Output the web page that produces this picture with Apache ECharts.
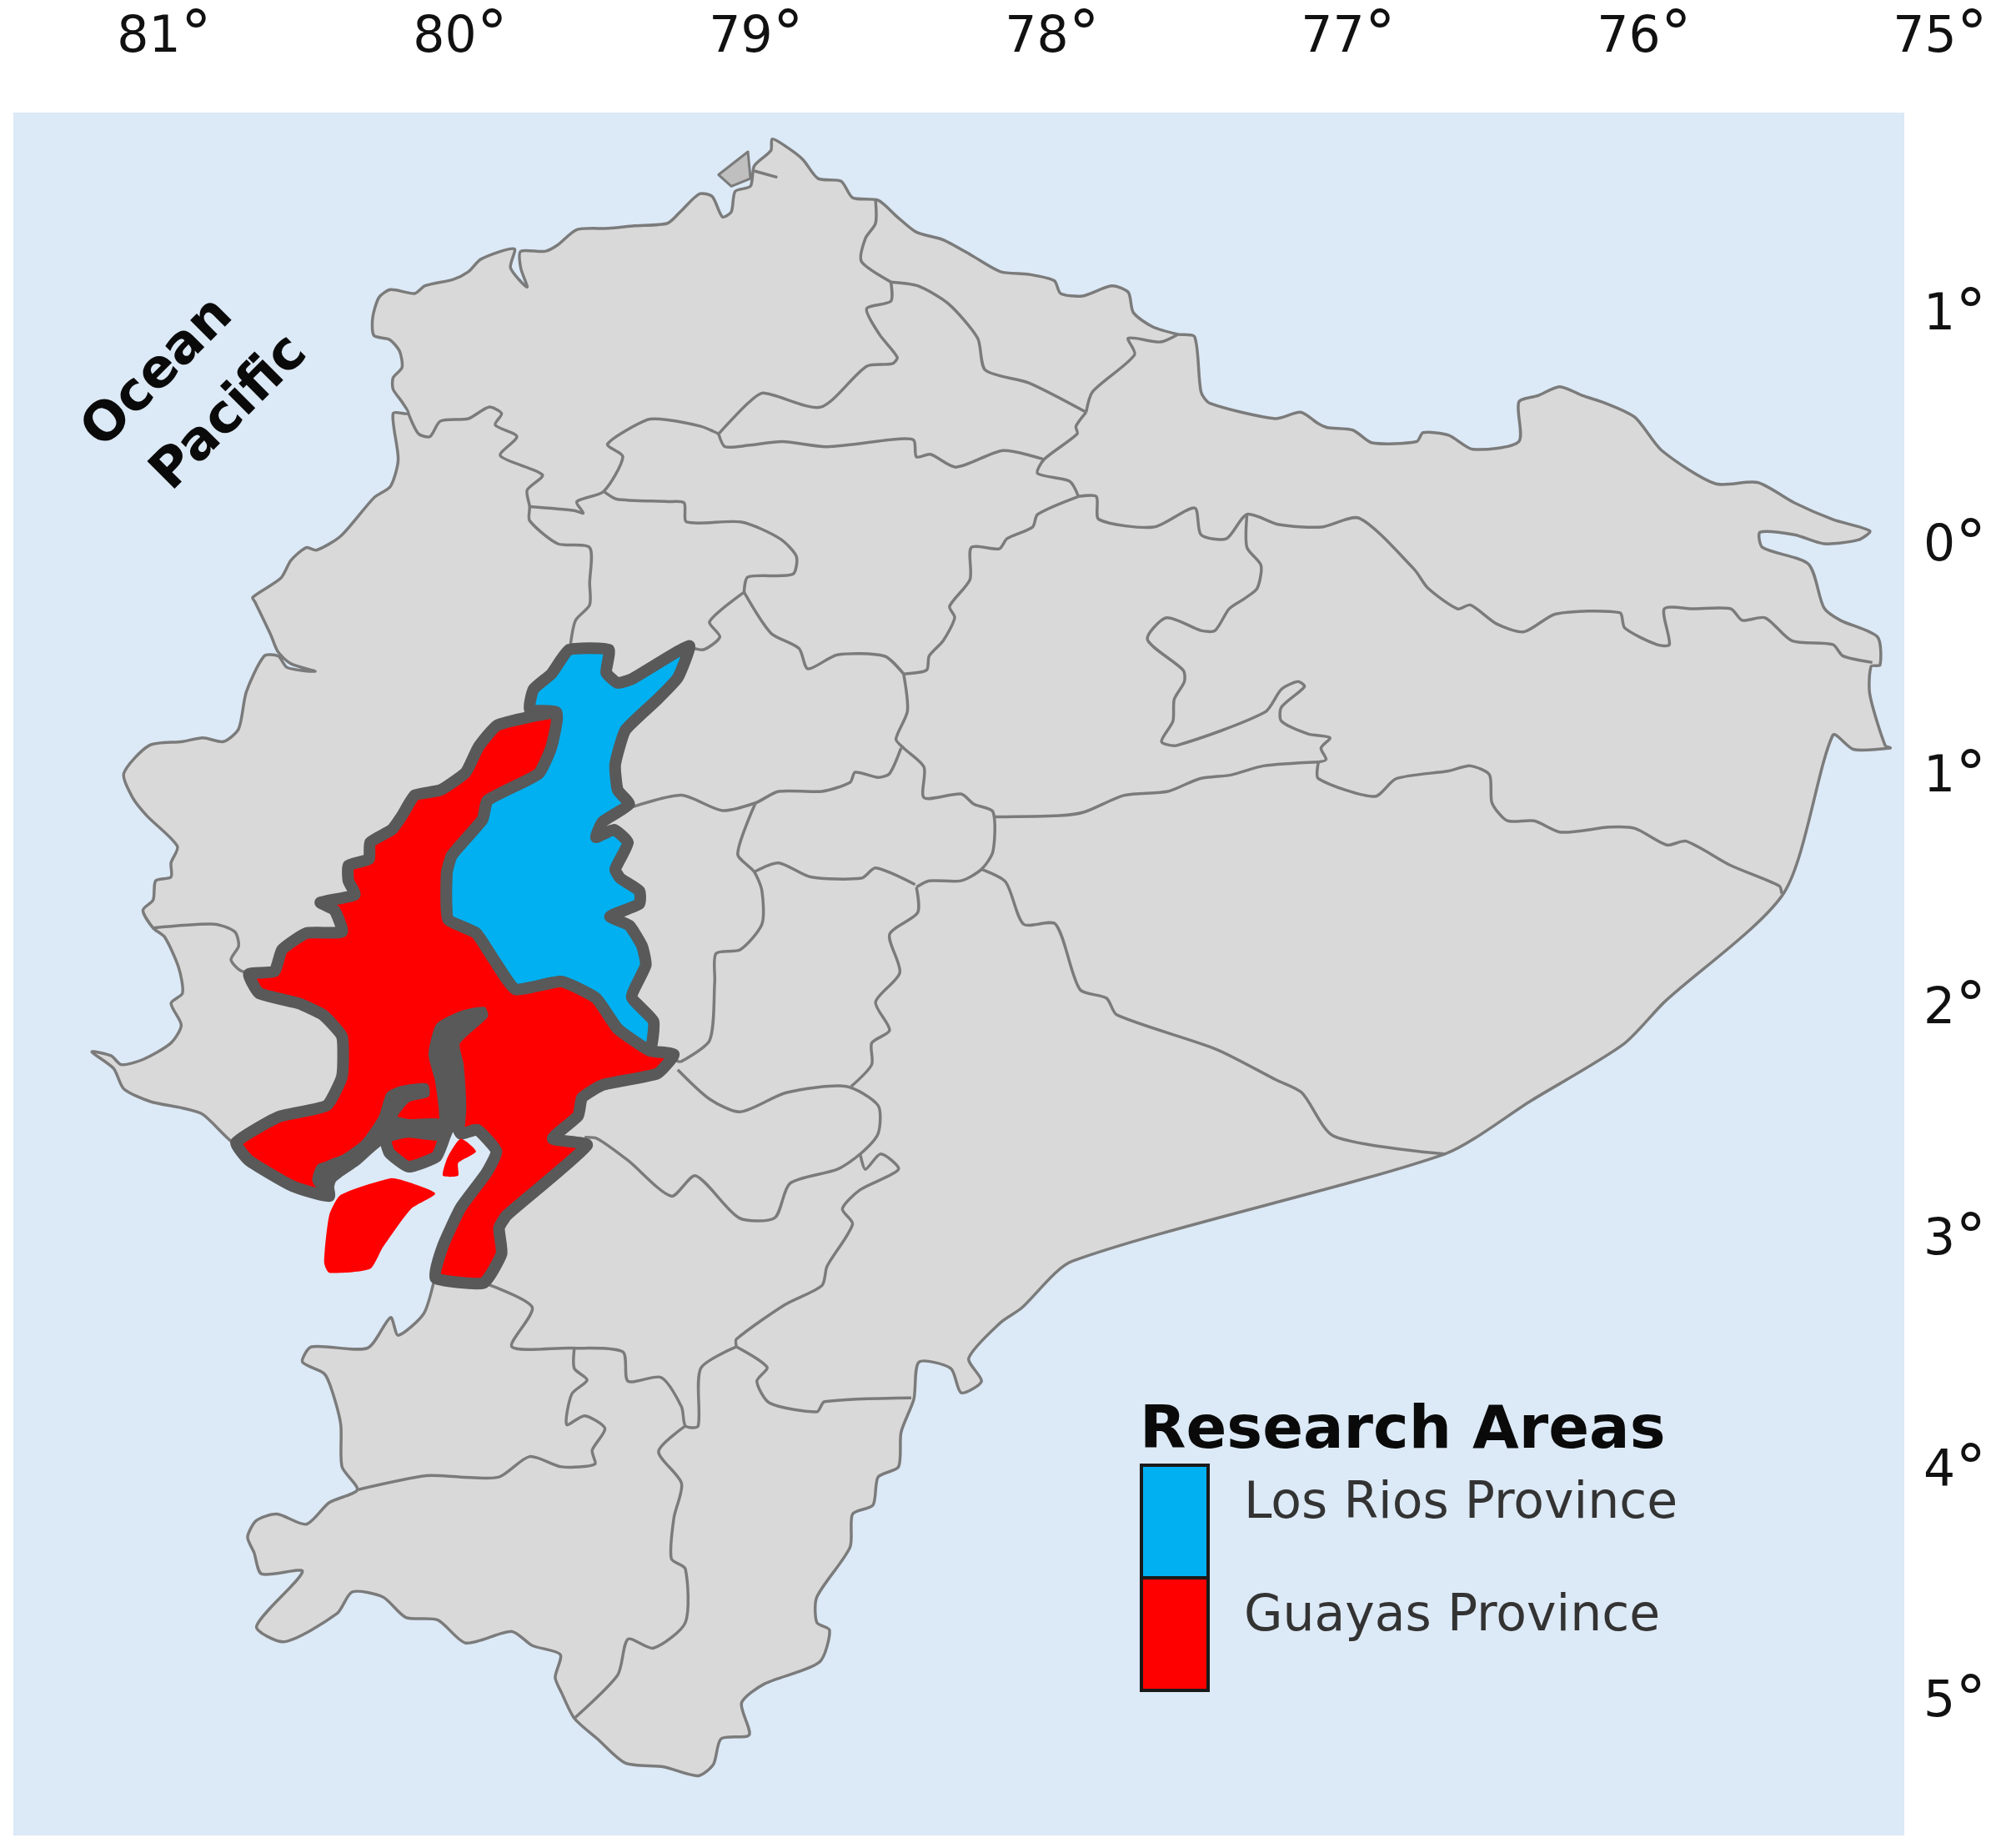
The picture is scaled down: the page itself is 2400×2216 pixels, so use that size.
<!DOCTYPE html>
<html>
<head>
<meta charset="utf-8">
<style>html,body{margin:0;padding:0;background:#fff}#main{width:2400px;height:2216px}</style>
<script src="https://cdn.jsdelivr.net/npm/echarts@6/dist/echarts.min.js"></script>
</head>
<body>
<div id="main"></div>
<script>
// tick labels
var lonTicks = [81, 80, 79, 78, 77, 76, 75];
var latTicks = [1, 0, -1, -2, -3, -4, -5];
var legendNames = ['Los Rios Province', 'Guayas Province'];

// outlines, as [easting, southing] survey units
// (toLonLat below turns them into degrees)
var coast = [[320,324],[315,315],[308,305],[308,296],[315,288],[313,275],[305,266],[293,263],[292,249],[297,233],[306,227],[325,230],[333,224],[355,219],[367,213],[377,203],[403,195],[400,210],[413,225],[408,210],[408,197],[427,197],[437,192],[452,180],[477,179],[497,177],[523,175],[533,166],[548,152],[558,154],[566,170],[573,166],[576,150],[588,146],[591,130],[604,118],[605,109],[616,115],[629,125],[641,140],[659,142],[668,155],[688,157],[703,170],[718,182],[739,188],[761,200],[784,213],[806,215],[826,220],[831,230],[848,232],[871,224],[884,229],[888,245],[903,256],[923,262],[936,264],[941,307],[948,316],[999,328],[1019,323],[1033,332],[1040,335],[1060,337],[1075,347],[1110,346],[1115,339],[1135,341],[1154,352],[1190,346],[1190,315],[1205,310],[1222,303],[1240,310],[1258,316],[1281,327],[1302,353],[1344,379],[1377,378],[1406,394],[1436,407],[1465,416],[1456,423],[1429,426],[1406,419],[1379,417],[1381,429],[1417,442],[1429,476],[1442,486],[1471,499],[1473,521],[1466,522],[1465,544],[1477,584],[1481,586],[1452,587],[1436,576],[1398,699],[1304,785],[1272,818],[1200,862],[1132,904],[840,988],[800,1025],[784,1036],[759,1064],[769,1082],[753,1091],[745,1072],[720,1067],[716,1096],[706,1122],[704,1149],[688,1157],[684,1179],[668,1186],[666,1212],[640,1251],[640,1271],[650,1277],[642,1302],[599,1319],[581,1334],[587,1359],[565,1362],[559,1382],[547,1391],[520,1384],[490,1381],[468,1362],[450,1346],[440,1326],[435,1314],[439,1296],[417,1289],[401,1278],[365,1287],[343,1269],[318,1267],[300,1251],[276,1247],[264,1264],[223,1286],[201,1274],[237,1231],[205,1233],[199,1216],[194,1204],[201,1191],[217,1186],[240,1194],[258,1177],[280,1167],[268,1149],[267,1116],[260,1089],[254,1076],[237,1067],[244,1055],[288,1056],[306,1032],[312,1046],[332,1029],[340,1004],[347,976],[361,946],[381,919],[389,902],[374,885],[345,860],[320,855],[300,870],[262,920],[245,925],[185,897],[159,873],[143,868],[118,863],[97,853],[89,837],[72,824],[87,827],[95,834],[112,830],[134,817],[142,803],[134,786],[143,778],[140,758],[129,734],[120,727],[112,713],[120,705],[122,690],[134,687],[134,676],[139,663],[115,639],[104,625],[97,606],[117,584],[143,581],[159,578],[175,581],[187,571],[193,542],[207,514],[218,514],[225,523],[247,526],[228,520],[218,511],[212,497],[200,472],[198,468],[220,453],[228,439],[240,429],[248,431],[267,420],[293,390],[306,381],[312,360],[308,324]];
var borderEsmeraldasCarchi = [[686,157],[686,175],[678,187],[675,205],[698,221]];
var borderCarchiSucumbios = [[698,221],[719,224],[743,238],[766,265],[772,290],[806,300],[851,323]];
var borderImbabura = [[698,221],[698,236],[679,242],[689,262],[703,280],[699,285],[679,287],[643,319],[598,308],[586,316],[563,340]];
var borderEsmeraldasSouth = [[320,324],[328,340],[337,342],[345,330],[367,328],[383,319],[393,324],[388,333],[405,342],[392,357],[425,372],[413,384],[415,397],[415,408],[437,426],[462,429],[462,457],[462,474],[451,486],[447,505]];
var borderStoDomingo = [[415,397],[450,400],[457,402],[452,393],[473,385],[488,358],[476,348],[507,329],[523,329],[549,334],[559,338],[563,340]];
var borderPichinchaNorth = [[563,340],[568,350],[586,349],[613,346],[648,350],[703,344],[716,345],[718,358],[729,356],[749,366],[786,353],[818,360]];
var borderSucumbiosWest = [[851,323],[843,334],[844,340],[818,360],[813,371],[838,377],[845,389]];
var borderSucumbiosCoast = [[851,323],[856,307],[889,278],[884,265],[909,268],[923,262]];
var borderNapoWest = [[845,389],[813,403],[809,413],[789,422],[783,430],[761,429],[760,454],[744,475],[748,484],[739,502],[728,514],[726,525],[708,528]];
var borderCotopaxiNorth = [[708,528],[693,514],[656,513],[633,524],[626,508],[604,496],[583,464]];
var borderPichinchaSouth = [[583,464],[586,452],[621,450],[624,436],[611,422],[581,409],[538,409],[536,394],[523,393],[483,391],[473,385]];
var borderCotopaxiWest = [[583,464],[556,487],[564,499],[551,509],[538,506]];
var borderTungurahua = [[708,528],[711,557],[702,579],[708,586],[724,601],[724,625],[753,622],[763,630],[778,636],[778,667],[769,681],[753,690],[728,690],[718,695]];
var borderCotopaxiSouth = [[496,632],[534,623],[566,635],[592,629],[610,620],[644,620],[666,613],[670,605],[688,609],[697,606],[706,586]];
var borderBolivar = [[592,629],[578,669],[591,683],[597,698],[597,724],[580,744],[561,747],[560,769],[556,815],[533,832]];
var borderChimborazoNorth = [[591,683],[610,676],[635,687],[675,688],[686,680],[717,693]];
var borderChimborazoEast = [[718,695],[719,715],[697,732],[705,762],[686,785],[697,807],[683,817],[683,834],[667,851]];
var borderCanarNorth = [[531,838],[556,861],[580,871],[616,856],[663,851],[688,866],[688,888],[674,904],[656,916],[619,927],[607,954],[579,954],[545,921],[526,937],[492,909],[468,892],[458,891]];
var borderAzuayEast = [[674,904],[678,916],[690,904],[704,916],[674,932],[660,947],[668,959],[648,992],[644,1007],[615,1022],[577,1049],[577,1055]];
var borderAzuaySouth = [[379,1005],[417,1024],[401,1055],[448,1056],[488,1059],[492,1082],[518,1079],[534,1102],[537,1117],[547,1117],[549,1072],[577,1055]];
var borderZamoraNorth = [[577,1055],[601,1071],[593,1082],[603,1099],[640,1106],[646,1098],[714,1095]];
var borderElOro = [[450,1056],[450,1072],[460,1081],[448,1092],[444,1116],[458,1109],[474,1119],[464,1136],[466,1147],[440,1149],[415,1141],[391,1157],[361,1157],[334,1156],[280,1167]];
var borderLojaEast = [[537,1117],[516,1137],[534,1162],[528,1189],[526,1221],[537,1229],[537,1271],[512,1291],[492,1284],[484,1312],[450,1346]];
var borderOrellanaNorth = [[845,389],[859,389],[861,407],[904,413],[936,398],[941,419],[961,422],[977,403],[1002,411],[1035,413],[1065,406],[1108,446],[1119,461],[1142,477],[1152,474],[1173,489],[1194,495],[1219,481],[1269,480],[1273,492],[1298,505],[1308,505],[1304,477],[1327,477],[1356,477],[1365,486],[1383,484],[1404,502],[1436,505],[1444,514],[1467,519]];
var borderNapoOrellana = [[977,403],[977,429],[988,443],[985,461],[975,469],[963,477],[952,494],[941,494],[914,484],[899,501],[927,525],[928,534],[920,548],[919,565],[910,581],[922,584],[991,558],[1004,540],[1017,534],[1022,538],[1004,554],[1004,565],[1025,575],[1042,578],[1035,586],[1039,595],[1033,597]];
var borderPastazaNorth = [[778,640],[830,639],[850,636],[881,623],[915,620],[940,610],[965,607],[990,600],[1033,597]];
var borderPastazaEast = [[1033,597],[1033,610],[1077,624],[1094,610],[1135,604],[1152,600],[1167,607],[1169,629],[1181,643],[1202,643],[1223,652],[1261,648],[1281,649],[1306,662],[1321,659],[1356,678],[1394,694],[1396,700]];
var borderMoronaNorth = [[769,681],[788,691],[802,724],[827,724],[846,775],[867,782],[875,795],[953,822],[1000,846],[1020,856],[1045,890],[1132,904]];
var borderManabiSouth = [[120,727],[168,724],[184,730],[187,741],[181,752],[190,761],[212,761]];
var borderChimborazoCanar = [[533,832],[509,823]];
var inletEsmeraldas = [[591,134],[609,139]];

var losRios = [[446,509],[477,509],[475,527],[484,535],[495,532],[540,506],[531,531],[515,548],[490,572],[482,599],[484,619],[493,630],[472,644],[467,656],[481,650],[492,660],[482,681],[486,688],[501,698],[501,708],[478,718],[493,725],[503,741],[506,756],[495,781],[512,800],[509,823],[484,806],[467,782],[440,769],[404,775],[387,752],[373,731],[351,720],[350,684],[354,670],[378,642],[382,627],[422,606],[432,585],[436,558],[415,556],[418,540],[432,528]];
var guayas = [[436,559],[390,568],[375,585],[365,605],[345,619],[325,623],[315,639],[307,650],[290,660],[289,673],[273,678],[273,690],[278,701],[251,707],[262,713],[268,730],[240,731],[221,744],[215,761],[195,763],[203,778],[234,786],[253,795],[268,812],[268,843],[256,866],[218,875],[185,895],[195,909],[229,929],[258,937],[254,916],[278,906],[300,890],[305,903],[320,914],[342,906],[349,889],[355,876],[361,888],[374,885],[389,902],[381,919],[361,946],[347,976],[341,1001],[379,1005],[393,982],[391,962],[397,952],[460,897],[433,892],[453,874],[456,860],[472,850],[515,841],[528,826],[509,823],[484,806],[467,782],[440,769],[404,775],[387,752],[373,731],[351,720],[350,684],[354,670],[378,642],[382,627],[422,606],[432,585]];
var guayasEstuary = [[379,790],[362,793],[343,803],[337,826],[342,846],[345,868],[347,891],[355,876],[362,886],[364,868],[362,834],[359,817],[381,796]];
var guayasInlet = [[334,850],[314,852],[304,857],[298,875],[284,895],[262,910],[250,913],[246,925],[258,940],[262,925],[280,912],[300,895],[320,890],[345,892],[345,878],[320,878],[310,875],[320,862],[335,858]];
var punaIsland = [[267,936],[306,923],[320,926],[341,935],[322,947],[300,977],[290,994],[258,997],[254,989],[258,952]];
var smallIslet = [[361,892],[373,902],[359,911],[359,921],[347,921],[351,906]];
var northIslet = [[563,137],[586,119],[588,140],[573,146]];

function toLonLat(p) {
  return [81 - (p[0] - 128.7) / 231.9, (425.4 - p[1]) / 181.1];
}

function shapeSeries(name, shapes, type, style, z, smooth) {
  var geo = shapes.map(function (s) { return s.map(toLonLat); });
  return {
    name: name,
    type: 'custom',
    coordinateSystem: 'cartesian2d',
    z: z,
    silent: true,
    clip: false,
    itemStyle: { color: style.fill === 'none' ? style.stroke : style.fill },
    encode: { x: 0, y: 1 },
    data: geo.map(function (g) { return g[0]; }),
    renderItem: function (params, api) {
      return {
        type: type,
        shape: { points: geo[params.dataIndex].map(function (p) { return api.coord(p); }), smooth: smooth },
        style: style
      };
    }
  };
}

var thin = { fill: 'none', stroke: '#7b7b7b', lineWidth: 3.5, lineJoin: 'round' };
var thick = { stroke: '#595959', lineWidth: 14, lineJoin: 'round' };

function degreeLabel(v) {
  return '{d|' + Math.abs(v) + '}{o|°}';
}
var labelRich = {
  d: { fontSize: 60, color: '#111', fontFamily: 'DejaVu Sans' },
  o: { fontSize: 74, color: '#111', fontFamily: 'DejaVu Sans' }
};

var chart = echarts.init(document.getElementById('main'), null, { renderer: 'canvas' });
chart.setOption({
  animation: false,
  backgroundColor: '#ffffff',
  textStyle: { fontFamily: 'DejaVu Sans' },
  grid: { left: 19.5, top: 152, width: 2307.5, height: 2024, containLabel: false },
  xAxis: {
    type: 'value', position: 'top', inverse: true, min: 75, max: 81.5,
    axisLine: { show: false }, axisTick: { show: false }, splitLine: { show: false },
    axisLabel: { customValues: lonTicks, margin: 69, formatter: degreeLabel, rich: labelRich }
  },
  yAxis: {
    type: 'value', position: 'right', min: -5.5, max: 1.8, offset: -20,
    axisLine: { show: false }, axisTick: { show: false }, splitLine: { show: false },
    axisLabel: { customValues: latTicks, margin: 0, align: 'left', padding: [11, 0, 0, 0], formatter: degreeLabel, rich: labelRich }
  },
  title: {
    text: 'Research Areas', left: 1362, top: 1676,
    textStyle: { fontSize: 72, fontWeight: 'bold', color: '#0a0a0a', fontFamily: 'DejaVu Sans' }
  },
  legend: {
    orient: 'vertical', left: 1367, top: 1755, padding: 0, itemGap: -4,
    itemWidth: 80, itemHeight: 135, icon: 'rect', selectedMode: false,
    data: legendNames,
    itemStyle: { borderColor: '#1a1a1a', borderWidth: 4 },
    formatter: function (name) { return '{t|' + name + '}'; },
    textStyle: {
      rich: { t: { fontSize: 60, color: '#333', fontFamily: 'DejaVu Sans', padding: [0, 0, 40, 38] } }
    }
  },
  graphic: [
    { type: 'rect', z: -10, silent: true, shape: { x: 16, y: 135, width: 2268, height: 2066 }, style: { fill: '#dce9f6' } },
    { type: 'text', z: 10, silent: true, x: 190, y: 448, rotation: Math.PI / 4, style: { text: 'Ocean', fill: '#0a0a0a', font: 'bold 64px "DejaVu Sans"', align: 'center', verticalAlign: 'middle' } },
    { type: 'text', z: 10, silent: true, x: 276, y: 496, rotation: Math.PI / 4, style: { text: 'Pacific', fill: '#0a0a0a', font: 'bold 64px "DejaVu Sans"', align: 'center', verticalAlign: 'middle' } }
  ],
  series: [
    shapeSeries('Land', [coast], 'polygon', { fill: '#d9d9d9', stroke: '#7b7b7b', lineWidth: 3.5, lineJoin: 'round' }, 2, 0.25),
    shapeSeries('North islet', [northIslet], 'polygon', { fill: '#bfbfbf', stroke: '#7b7b7b', lineWidth: 3, lineJoin: 'round' }, 2, 0),
    shapeSeries('Province borders', [
      borderEsmeraldasCarchi, borderCarchiSucumbios, borderImbabura, borderEsmeraldasSouth, borderStoDomingo,
      borderPichinchaNorth, borderSucumbiosWest, borderSucumbiosCoast, borderNapoWest, borderCotopaxiNorth,
      borderPichinchaSouth, borderCotopaxiWest, borderTungurahua, borderCotopaxiSouth, borderBolivar,
      borderChimborazoNorth, borderChimborazoEast, borderCanarNorth, borderAzuayEast, borderAzuaySouth,
      borderZamoraNorth, borderElOro, borderLojaEast, borderOrellanaNorth, borderNapoOrellana,
      borderPastazaNorth, borderPastazaEast, borderMoronaNorth, borderManabiSouth, borderChimborazoCanar, inletEsmeraldas
    ], 'polyline', thin, 3, 0.25),
    shapeSeries('Los Rios Province', [losRios], 'polygon', Object.assign({ fill: '#00b0f0' }, thick), 4, 0.15),
    shapeSeries('Guayas Province', [guayas], 'polygon', Object.assign({ fill: '#ff0000' }, thick), 5, 0.15),
    shapeSeries('Guayas islands', [punaIsland, smallIslet], 'polygon', { fill: '#ff0000' }, 5, 0.2),
    shapeSeries('Guayas estuary', [guayasEstuary, guayasInlet], 'polygon', { fill: '#595959', stroke: '#595959', lineWidth: 4, lineJoin: 'round' }, 6, 0.2)
  ]
});
</script>
</body>
</html>
